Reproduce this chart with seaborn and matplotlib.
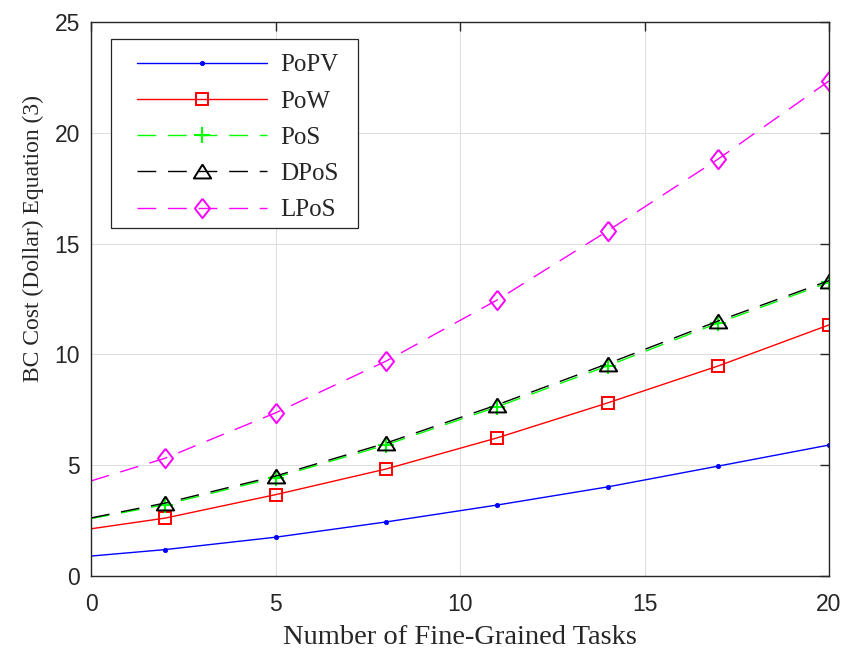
"""
BC cost vs number of fine-grained tasks, five consensus schemes
"""

import numpy as np
import pandas as pd
import matplotlib
matplotlib.use('Agg')
import matplotlib.pyplot as plt
from matplotlib.lines import Line2D
from matplotlib.patches import Rectangle
import seaborn as sns

# data (markers at 2,5,...,20; curve starts at 0)
x_tasks = [0, 2, 5, 8, 11, 14, 17, 20]
popv = [0.90, 1.19, 1.75, 2.44, 3.20, 4.02, 4.96, 5.91]
pow_ = [2.13, 2.61, 3.67, 4.83, 6.23, 7.81, 9.48, 11.33]
pos = [2.59, 3.22, 4.44, 5.92, 7.63, 9.48, 11.42, 13.25]
dpos = [2.62, 3.29, 4.51, 6.00, 7.72, 9.58, 11.51, 13.33]
lpos = [4.29, 5.31, 7.36, 9.70, 12.45, 15.57, 18.82, 22.34]

series_names = ['PoPV', 'PoW', 'PoS', 'DPoS', 'LPoS']
x_ticks = [0, 5, 10, 15, 20]
y_ticks = [0, 5, 10, 15, 20, 25]

# MATLAB-like marker shapes
diamond = [(0, 1), (0.78, 0), (0, -1), (-0.78, 0), (0, 1)]
triangle = [(0, 0.8), (-1, -0.8), (1, -0.8), (0, 0.8)]
dash = (0, (13.5, 8.5))

styles = {
    'PoPV': dict(color='#0000ff', ls='-', marker='o', ms=3.2, mfc='#0000ff', mew=0.5),
    'PoW': dict(color='#ff0000', ls='-', marker='s', ms=8.5, mfc='none', mew=1.4),
    'PoS': dict(color='#00ff00', ls=dash, marker='+', ms=11, mfc='none', mew=1.5),
    'DPoS': dict(color='#000000', ls=dash, marker=triangle, ms=12.5, mfc='none', mew=1.4),
    'LPoS': dict(color='#ff00ff', ls=dash, marker=diamond, ms=14, mfc='none', mew=1.4),
}

df = pd.DataFrame({'x': x_tasks, 'PoPV': popv, 'PoW': pow_, 'PoS': pos,
                   'DPoS': dpos, 'LPoS': lpos})

sns.set_theme(style='white')
plt.rcParams['font.family'] = ['Liberation Sans', 'DejaVu Sans']

fig = plt.figure(figsize=(8.44, 6.51), dpi=100)
ax = fig.add_axes([91 / 844, 75 / 651, 738 / 844, 554 / 651])

handles = []
for name in series_names:
    st = styles[name]
    sns.lineplot(data=df, x='x', y=name, ax=ax, color=st['color'],
                 linestyle=st['ls'], linewidth=1.0, marker=st['marker'],
                 markersize=st['ms'], markerfacecolor=st['mfc'],
                 markeredgecolor=st['color'], markeredgewidth=st['mew'],
                 markevery=list(range(1, len(x_tasks))), legend=False)
    handles.append(Line2D([], [], color=st['color'], linestyle=st['ls'], linewidth=1.0,
                          marker=st['marker'], markersize=st['ms'],
                          markerfacecolor=st['mfc'], markeredgecolor=st['color'],
                          markeredgewidth=st['mew']))

ax.set_xlim(0, 20)
ax.set_ylim(0, 25)
ax.set_xticks(x_ticks)
ax.set_yticks(y_ticks)
ax.grid(True, color='#dfdfdf', linewidth=0.8)
ax.set_axisbelow(True)

for sp in ax.spines.values():
    sp.set_color('#262626')
    sp.set_linewidth(1.0)
ax.tick_params(direction='in', length=6.5, width=1.0, color='#262626',
               top=True, right=True, labelsize=16.5, labelcolor='#262626')
ax.tick_params(axis='x', pad=12)
ax.tick_params(axis='y', pad=8)

ax.set_xlabel('Number of Fine-Grained Tasks', family='Liberation Serif',
              fontsize=20.5, color='#262626', labelpad=7)
ax.set_ylabel('BC Cost (Dollar) Equation (3)', family='Liberation Serif',
              fontsize=17, color='#262626')
ax.yaxis.set_label_coords(-0.064, 0.61)

# legend box (MATLAB pads more left/right than top/bottom, so frame drawn by hand)
ax.add_patch(Rectangle((20 / 738, 348 / 554), 247 / 738, 189 / 554,
                       transform=ax.transAxes, facecolor='white',
                       edgecolor='#262626', linewidth=0.9, zorder=4.5))
leg = ax.legend(handles, series_names, loc='upper left',
                bbox_to_anchor=(45.7 / 738, 0.9423), borderaxespad=0,
                prop={'family': 'Liberation Serif', 'size': 18},
                handlelength=5.2, handletextpad=0.53, labelspacing=0.55,
                borderpad=0, frameon=False)
leg.set_zorder(5)

plt.savefig('out.png', dpi=100)
plt.close()
